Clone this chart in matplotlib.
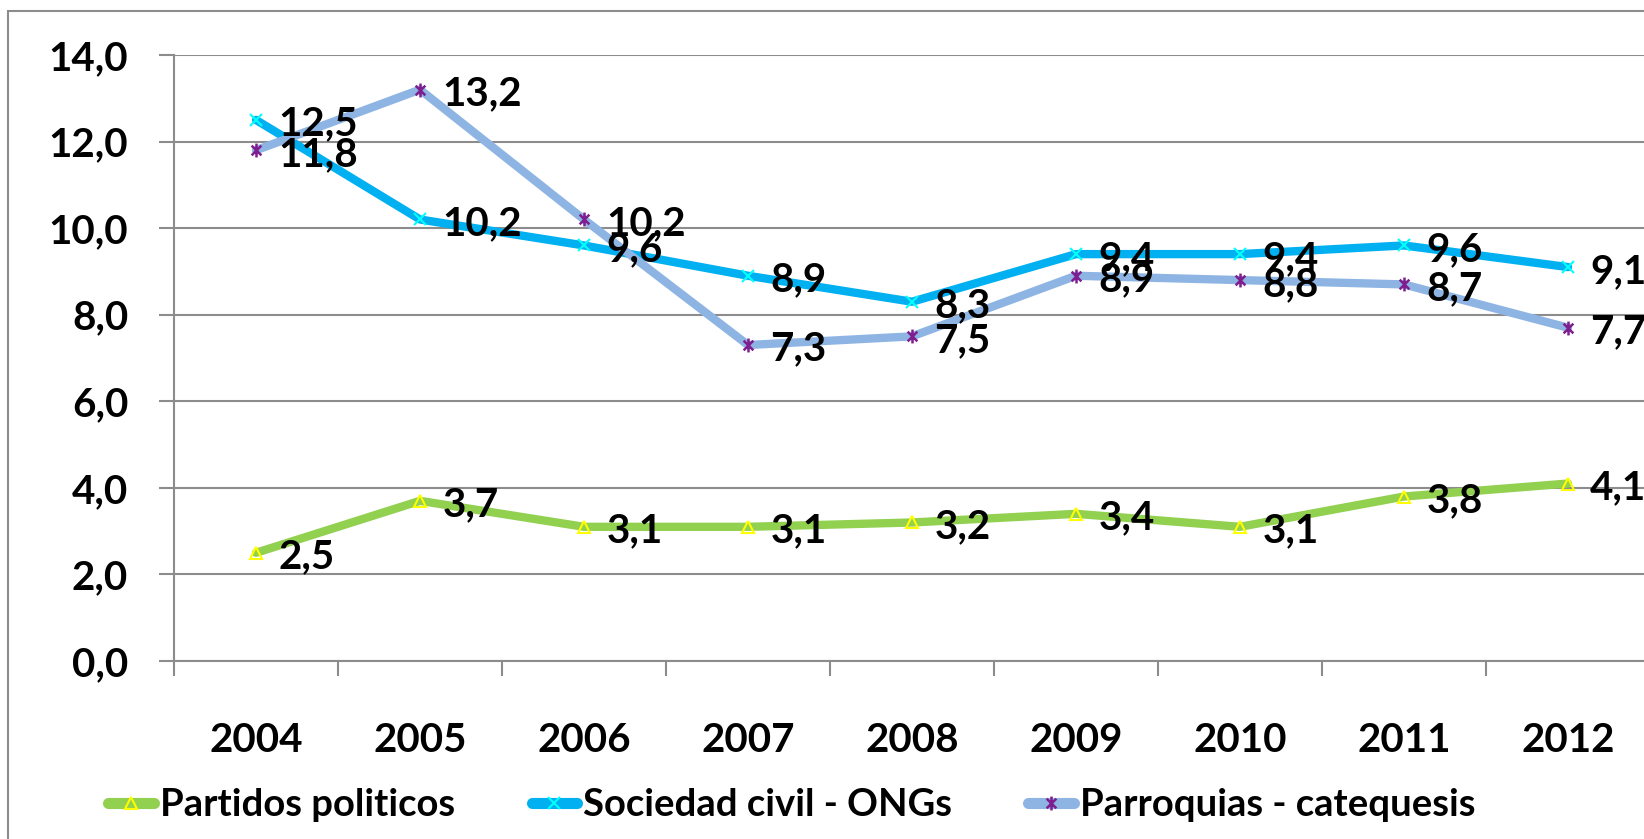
import matplotlib
matplotlib.use("Agg")
import matplotlib.pyplot as plt
from matplotlib.patches import Rectangle
from matplotlib.lines import Line2D
from matplotlib.path import Path

years = ["2004", "2005", "2006", "2007", "2008", "2009", "2010", "2011", "2012"]
partidos = [2.5, 3.7, 3.1, 3.1, 3.2, 3.4, 3.1, 3.8, 4.1]
sociedad = [12.5, 10.2, 9.6, 8.9, 8.3, 9.4, 9.4, 9.6, 9.1]
parroquias = [11.8, 13.2, 10.2, 7.3, 7.5, 8.9, 8.8, 8.7, 7.7]
series_names = ["Partidos politicos", "Sociedad civil - ONGs", "Parroquias - catequesis"]
yticks = [0, 2, 4, 6, 8, 10, 12, 14]

plt.rcParams['font.family'] = ['Lato', 'DejaVu Sans']
plt.rcParams['font.weight'] = 'bold'

W, H = 1644, 839
fig = plt.figure(figsize=(W / 100, H / 100), dpi=100)
ax = fig.add_axes([174 / W, 1 - 661 / H, (1650 - 174) / W, (661 - 55) / H])

# figure border
fig.patches.append(Rectangle((8 / W, -0.2), 1.2, 1 - 11 / H + 0.2, transform=fig.transFigure,
                             fill=False, edgecolor='#8c8c8c', linewidth=1.5, zorder=0))

# Excel-like star marker: an "x" plus a vertical bar
star_marker = Path([(-0.7, -0.7), (0.7, 0.7), (-0.7, 0.7), (0.7, -0.7), (0, -1), (0, 1)],
                   [Path.MOVETO, Path.LINETO, Path.MOVETO, Path.LINETO, Path.MOVETO, Path.LINETO])

x = list(range(len(years)))
styles = [
    dict(color='#92D050', marker='^', mfc='none', mec='#FFFF00', ms=9, mew=1.5),
    dict(color='#00B0F0', marker='x', mfc='none', mec='#00FFFF', ms=9, mew=1.5),
    dict(color='#8EB4E3', marker=star_marker, mfc='none', mec='#7F1F8F', ms=10, mew=1.8),
]
data = [partidos, sociedad, parroquias]
for vals, st, name in zip(data, styles, series_names):
    ax.plot(x, vals, linewidth=6, solid_joinstyle='round', solid_capstyle='round',
            label=name, zorder=3, **st)

for vals in data:
    for xi, v in zip(x, vals):
        ax.annotate(f"{v:.1f}".replace('.', ','), (xi, v), xytext=(16, -3),
                    textcoords='offset points', ha='left', va='center',
                    fontsize=29, fontweight='bold', color='black', zorder=5,
                    annotation_clip=False)

ax.set_xlim(-0.5, len(years) - 0.5)
ax.set_ylim(0, 14)
ax.set_yticks(yticks)
ax.set_yticklabels([f"{t:.1f}".replace('.', ',') for t in yticks])
ax.yaxis.grid(True, color='#8c8c8c', linewidth=1.5)
ax.set_axisbelow(True)

# category boundary ticks (major, no labels), centered labels (minor)
ax.set_xticks([i - 0.5 for i in range(len(years) + 1)])
ax.set_xticklabels([])
ax.set_xticks(x, minor=True)
ax.set_xticklabels(years, minor=True)
ax.tick_params(axis='x', which='major', length=11, width=1.5, color='#8c8c8c')
ax.tick_params(axis='x', which='minor', length=0, pad=44, labelsize=29)
ax.tick_params(axis='y', length=11, width=1.5, color='#8c8c8c', pad=22, labelsize=29)
for lbl in ax.get_xticklabels(minor=True) + ax.get_yticklabels():
    lbl.set_fontweight('bold')

for s in ['top', 'right']:
    ax.spines[s].set_visible(False)
for s in ['left', 'bottom']:
    ax.spines[s].set_color('#8c8c8c')
    ax.spines[s].set_linewidth(1.5)

leg_handles = [Line2D([0], [0], linewidth=8, solid_capstyle='round', **st) for st in styles]
fig.legend(leg_handles, series_names, loc='center', bbox_to_anchor=(792 / W, 1 - 805 / H),
           ncol=3, frameon=False, handlelength=1.2, handletextpad=0.15,
           columnspacing=2.0, prop={'weight': 'bold', 'size': 27.5})

fig.savefig("out.png", dpi=100)
